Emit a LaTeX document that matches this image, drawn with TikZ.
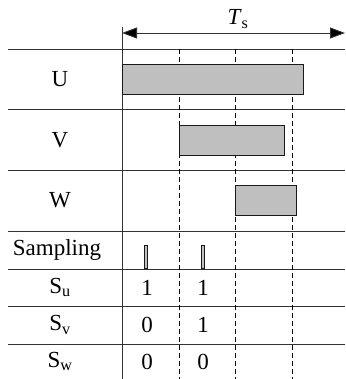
\documentclass[tikz,border=0pt]{standalone}
\usepackage{fontspec}
\setmainfont{Liberation Serif}
\usetikzlibrary{arrows.meta}
\begin{document}
\begin{tikzpicture}[x=1pt,y=-1pt,
  grid/.style={line width=0.9pt,draw=black!80},
  dashline/.style={line width=0.8pt,draw=black,dash pattern=on 5pt off 3pt},
  barbox/.style={line width=0.9pt,draw=black!90,fill=black!25},
  pulse/.style={line width=0.6pt,draw=black!90,fill=black!25},
  lbl/.style={font=\fontsize{23}{27}\selectfont,inner sep=0pt},
  timearrow/.style={line width=0.9pt,draw=black!80,{Triangle[length=15pt,width=11pt,fill=black]}-{Triangle[length=15pt,width=11pt,fill=black]}}]
\useasboundingbox (0,0) rectangle (345,379);
% horizontal rules
\foreach \y in {49,109,170,231,269,306,344}
  \draw[grid] (8,\y) -- (345,\y);
% vertical solid line
\draw[grid] (122,27) -- (122,379);
% dashed lines
\foreach \x in {179,235,292}
  \draw[dashline] (\x,49) -- (\x,379);
% bars
\draw[barbox] (122,64) rectangle (303,94);
\draw[barbox] (179,125) rectangle (284,155);
\draw[barbox] (235,185) rectangle (296,215);
% sampling pulses
\draw[pulse] (144.5,245) rectangle (147.5,268.5);
\draw[pulse] (201.5,245) rectangle (204.5,268.5);
% time arrow
\coordinate (tl) at (122,33);
\coordinate (tr) at (345,33);
\draw[timearrow] (tl) -- (tr);
\node[lbl] (ts) at (238,19) {\textit{T}\textsubscript{s}};
% labels
\node[lbl] (lu) at (60,79) {U};
\node[lbl] (lv) at (60,140) {V};
\node[lbl] (lw) at (60,200) {W};
\node[lbl] (ls) at (57,250) {Sampling};
\node[lbl] (lsu) at (60,287.5) {S\textsubscript{u}};
\node[lbl] (lsv) at (60,325) {S\textsubscript{v}};
\node[lbl] (lsw) at (60,361.5) {S\textsubscript{w}};
% values
\node[lbl] (u1) at (147,287.5) {1};
\node[lbl] (u2) at (203,287.5) {1};
\node[lbl] (v1) at (147,325) {0};
\node[lbl] (v2) at (203,325) {1};
\node[lbl] (w1) at (147,361.5) {0};
\node[lbl] (w2) at (203,361.5) {0};
\end{tikzpicture}
\end{document}
